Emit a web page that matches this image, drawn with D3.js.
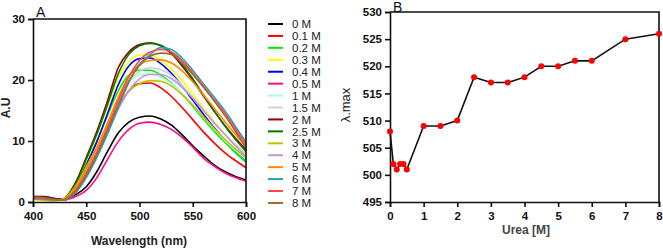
<!DOCTYPE html>
<html>
<head>
<meta charset="utf-8">
<script src="https://cdn.jsdelivr.net/npm/d3@7"></script>
<style>
  body { margin: 0; background: #fff; }
  svg { display: block; }
  .tick text { font-family: "Liberation Sans", Arial, sans-serif; font-weight: bold; font-size: 11.5px; fill: #111; }
  .legend text { font-family: "Liberation Sans Narrow", "Liberation Sans", Arial, sans-serif; font-size: 11.5px; fill: #222; }
</style>
</head>
<body>
<svg id="chart" width="663" height="249"></svg>
<script>
// golflengtes van de spectra (nm)
const wavelengths = [400, 410, 420, 428, 440, 450, 460, 470, 480, 490, 500, 510, 520, 530, 540, 550, 560, 570, 580, 590, 600];

// ureum concentraties in de legenda
const concLabels = ["0 M", "0.1 M", "0.2 M", "0.3 M", "0.4 M", "0.5 M", "1 M", "1.5 M", "2 M", "2.5 M", "3 M", "4 M", "5 M", "6 M", "7 M", "8 M"];
const concColors = ["#000000", "#ff0000", "#00ee00", "#ffff00", "#0000ff", "#ff0a8c", "#a8ffe0", "#d4d4d4", "#9a0000", "#007a00", "#c4c000", "#c295e0", "#ff8a00", "#1fa3c4", "#ff4646", "#a2692a"];

// intensiteit (A.U) per concentratie, zelfde volgorde als de labels
const spectra = [
  [0.9, 0.9, 0.6, 0.3, 1.2, 2.5, 5.0, 8.3, 11.3, 13.1, 13.9, 14.1, 13.6, 12.6, 11.0, 9.2, 7.6, 6.1, 5.0, 4.2, 3.6],
  [0.8, 0.7, 0.4, 0.3, 1.8, 4.4, 7.8, 11.5, 15.3, 18.2, 19.4, 19.5, 18.7, 17.3, 15.5, 13.5, 11.5, 9.7, 8.1, 6.8, 5.6],
  [0.6, 0.5, 0.3, 0.4, 2.8, 6.2, 10.0, 14.2, 18.2, 20.8, 21.6, 21.6, 20.8, 19.5, 17.7, 15.7, 13.6, 11.6, 9.8, 8.1, 6.5],
  [0.4, 0.3, 0.2, 0.5, 3.1, 6.9, 11.0, 15.6, 20.2, 23.0, 24.1, 24.1, 23.2, 21.8, 19.9, 17.7, 15.4, 13.2, 11.2, 9.4, 7.7],
  [0.7, 0.6, 0.4, 0.4, 2.6, 6.0, 9.9, 14.5, 19.2, 22.3, 23.5, 23.6, 22.7, 21.1, 19.0, 16.7, 14.4, 12.2, 10.2, 8.5, 6.9],
  [0.8, 0.8, 0.5, 0.3, 0.9, 1.9, 4.0, 7.0, 9.9, 11.9, 12.9, 13.1, 12.7, 11.9, 10.6, 9.0, 7.2, 5.9, 4.8, 4.0, 3.4],
  [0.6, 0.5, 0.3, 0.4, 2.2, 5.2, 8.8, 12.8, 16.8, 19.6, 20.8, 21.0, 20.5, 19.4, 17.8, 15.9, 13.9, 12.0, 10.1, 8.5, 7.0],
  [0.6, 0.5, 0.3, 0.4, 2.0, 5.0, 8.5, 12.5, 16.6, 19.8, 21.4, 22.0, 21.7, 20.7, 19.1, 17.2, 15.1, 13.0, 11.1, 9.5, 8.0],
  [0.9, 0.8, 0.5, 0.5, 3.2, 7.3, 11.6, 16.6, 22.0, 24.6, 25.8, 26.1, 25.6, 24.3, 22.3, 20.0, 17.4, 14.9, 12.6, 10.5, 8.6],
  [0.7, 0.6, 0.4, 0.5, 3.0, 7.0, 11.2, 16.0, 21.0, 24.2, 25.6, 26.0, 25.7, 24.5, 22.6, 20.2, 17.6, 15.0, 12.5, 10.3, 8.3],
  [0.5, 0.3, 0.2, 0.5, 2.6, 5.8, 9.0, 12.5, 15.8, 18.2, 19.4, 19.9, 19.8, 19.0, 17.6, 15.9, 14.0, 12.1, 10.3, 8.7, 7.3],
  [0.6, 0.5, 0.3, 0.3, 1.6, 4.2, 7.5, 11.3, 15.2, 18.3, 20.2, 20.9, 20.9, 20.2, 18.8, 17.0, 15.0, 13.0, 11.1, 9.2, 7.5],
  [0.5, 0.4, 0.3, 0.3, 2.3, 5.4, 9.0, 13.0, 17.2, 20.6, 22.5, 23.2, 23.3, 22.8, 21.5, 19.7, 17.6, 15.4, 13.2, 11.1, 9.1],
  [0.6, 0.5, 0.3, 0.3, 1.5, 4.0, 7.3, 11.2, 15.5, 19.6, 22.6, 24.2, 25.3, 25.0, 23.6, 21.6, 19.4, 17.2, 15.0, 12.4, 9.8],
  [0.7, 0.6, 0.4, 0.3, 2.0, 4.8, 8.2, 12.2, 16.6, 20.5, 23.2, 24.6, 25.0, 24.6, 23.2, 21.2, 19.0, 16.8, 14.6, 12.0, 9.4],
  [0.8, 0.7, 0.4, 0.3, 1.7, 4.4, 7.8, 11.7, 15.9, 19.8, 22.4, 23.9, 24.4, 24.2, 22.8, 20.9, 18.8, 16.6, 14.2, 11.6, 8.9]
];

// paneel B: ureum tegen lambda max
const urea = [0, 0.1, 0.2, 0.3, 0.4, 0.5, 1, 1.5, 2, 2.5, 3, 3.5, 4, 4.5, 5, 5.5, 6, 7, 8];
const lambdaMax = [508, 502, 501, 502, 502, 501, 509, 509, 510, 518, 517, 517, 518, 520, 520, 521, 521, 525, 526];

const svg = d3.select("#chart");
const font = '"Liberation Sans", Arial, sans-serif';

// ---------- paneel A ----------
const xA = d3.scaleLinear().domain([400, 600]).range([33, 246]);
const yA = d3.scaleLinear().domain([0, 30]).range([202, 19]);

const gA = svg.append("g");

const lineA = d3.line()
    .x(function (d, i) { return xA(wavelengths[i]); })
    .y(function (d) { return yA(d); })
    .curve(d3.curveMonotoneX);

gA.append("g").selectAll("path")
    .data(spectra)
  .enter().append("path")
    .attr("d", lineA)
    .attr("fill", "none")
    .attr("stroke", function (d, i) { return concColors[i]; })
    .attr("stroke-width", 1.6);

gA.append("g")
    .attr("transform", "translate(0,202)")
    .call(d3.axisBottom(xA).tickValues([400, 450, 500, 550, 600]).tickSize(5).tickPadding(5))
    .call(styleAxis);

gA.append("g")
    .attr("transform", "translate(33,0)")
    .call(d3.axisLeft(yA).tickValues([0, 10, 20, 30]).tickSize(5).tickPadding(3))
    .call(styleAxis);

// kader boven en rechts
gA.append("path")
    .attr("d", "M33,19H246V202")
    .attr("fill", "none").attr("stroke", "#111").attr("stroke-width", 1.6);

gA.append("text").text("A")
    .attr("x", 36).attr("y", 17)
    .attr("font-family", font).attr("font-size", 14).attr("fill", "#111");

gA.append("text").text("Wavelength (nm)")
    .attr("x", 139).attr("y", 245)
    .attr("text-anchor", "middle")
    .attr("font-family", font).attr("font-weight", "bold").attr("font-size", 12).attr("fill", "#222");

gA.append("text").text("A.U")
    .attr("transform", "translate(10,108) rotate(-90)")
    .attr("text-anchor", "middle")
    .attr("font-family", font).attr("font-weight", "bold").attr("font-size", 12).attr("fill", "#222");

// legenda
const legend = svg.append("g").attr("class", "legend");
const rows = legend.selectAll("g")
    .data(concLabels)
  .enter().append("g")
    .attr("transform", function (d, i) { return "translate(268," + (24 + i * 11.93) + ")"; });
rows.append("line")
    .attr("x1", 0).attr("x2", 15)
    .attr("stroke", function (d, i) { return concColors[i]; })
    .attr("stroke-width", 2);
rows.append("text")
    .attr("x", 24).attr("dy", "0.36em")
    .text(function (d) { return d; });

// ---------- paneel B ----------
const xB = d3.scaleLinear().domain([0, 8]).range([390, 659]);
const yB = d3.scaleLinear().domain([495, 530]).range([202, 12]);

const gB = svg.append("g");

gB.append("g")
    .attr("transform", "translate(0,202)")
    .call(d3.axisBottom(xB).ticks(8).tickSize(5).tickPadding(5))
    .call(styleAxis);

gB.append("g")
    .attr("transform", "translate(390,0)")
    .call(d3.axisLeft(yB).tickValues(d3.range(495, 531, 5)).tickSize(5).tickPadding(3))
    .call(styleAxis);

gB.append("path")
    .attr("d", "M390,12H659V202")
    .attr("fill", "none").attr("stroke", "#111").attr("stroke-width", 1.6);

const pointsB = urea.map(function (u, i) { return [u, lambdaMax[i]]; });

gB.append("path")
    .datum(pointsB)
    .attr("fill", "none")
    .attr("stroke", "#111")
    .attr("stroke-width", 1.6)
    .attr("d", d3.line()
        .x(function (d) { return xB(d[0]); })
        .y(function (d) { return yB(d[1]); }));

gB.append("g").selectAll("circle")
    .data(pointsB)
  .enter().append("circle")
    .attr("cx", function (d) { return xB(d[0]); })
    .attr("cy", function (d) { return yB(d[1]); })
    .attr("r", 3)
    .attr("fill", "#ff0000");

gB.append("text").text("B")
    .attr("x", 393).attr("y", 12)
    .attr("font-family", font).attr("font-size", 14).attr("fill", "#111");

gB.append("text").text("Urea [M]")
    .attr("x", 526).attr("y", 234)
    .attr("text-anchor", "middle")
    .attr("font-family", font).attr("font-weight", "bold").attr("font-size", 12).attr("fill", "#444");

gB.append("text").text("\u03bb.max")
    .attr("transform", "translate(350,105) rotate(-90)")
    .attr("text-anchor", "middle")
    .attr("font-family", font).attr("font-size", 13).attr("fill", "#222");

function styleAxis(g) {
  g.select(".domain").attr("stroke", "#111").attr("stroke-width", 1.6);
  g.selectAll(".tick line").attr("stroke", "#111").attr("stroke-width", 1.6);
}
</script>
</body>
</html>
